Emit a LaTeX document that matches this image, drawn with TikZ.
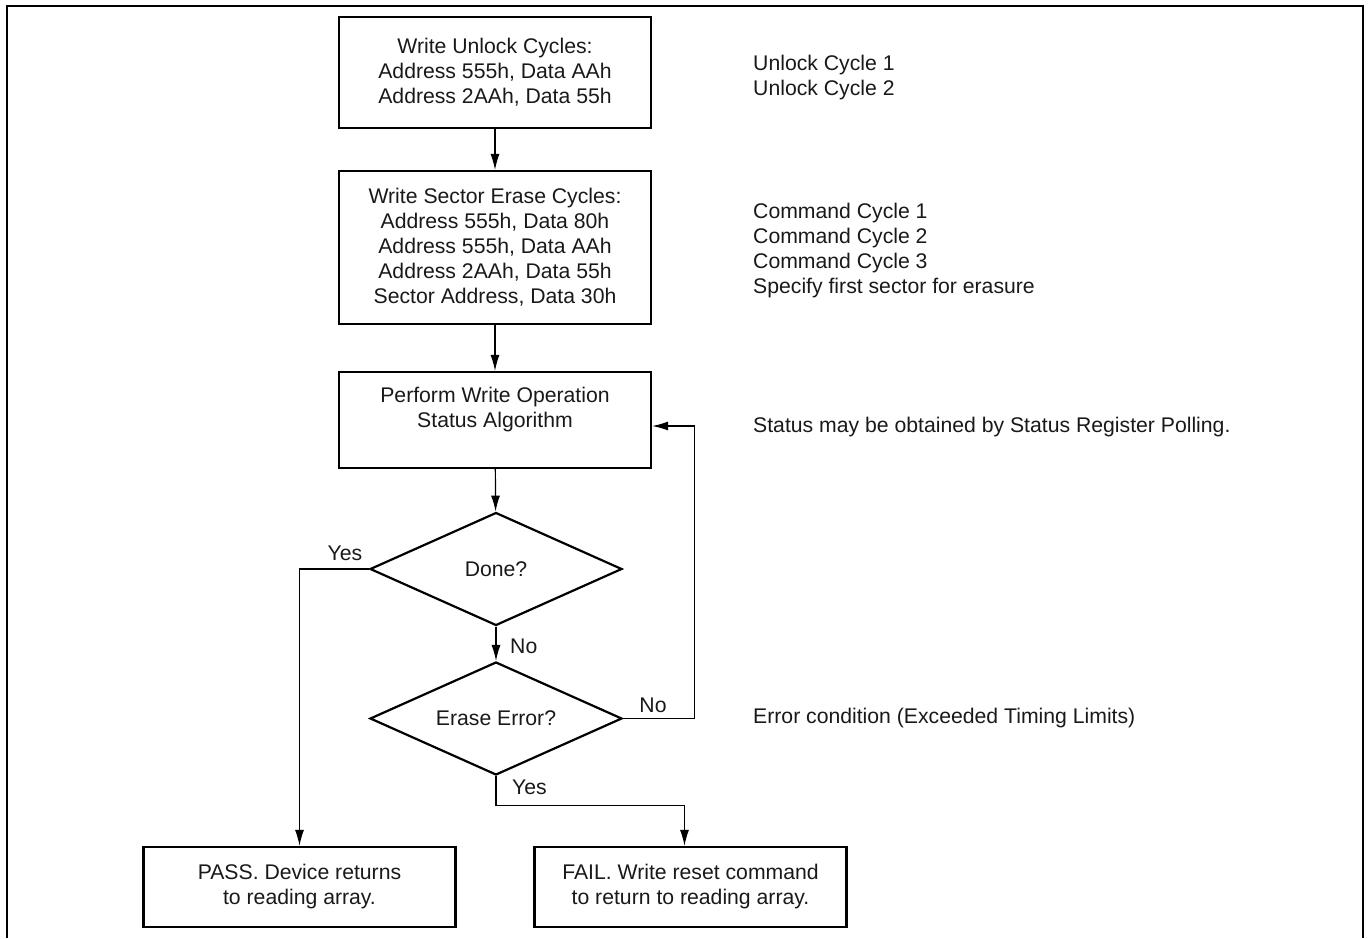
\documentclass[tikz,border=0pt]{standalone}
\usepackage{fontspec}
\setmainfont{Liberation Sans}
\usetikzlibrary{shapes.geometric,arrows.meta}

\tikzset{
  stepbox/.style={draw,rectangle,line width=2.2pt,minimum width=312pt,align=center,inner sep=0pt},
  decide/.style={draw,diamond,aspect=2.23,line width=2.2pt,minimum width=252pt,minimum height=113pt,inner sep=0pt},
  flow/.style={line width=1.2pt,-{Latex[length=16pt,width=9pt]}},
  tag/.style={inner sep=0pt},
  note/.style={anchor=west,align=left,inner sep=0pt},
}

\begin{document}
\begin{tikzpicture}[x=1pt,y=-1pt,font=\fontsize{21.2pt}{25pt}\selectfont,text=black!90]
    \useasboundingbox (0,0) rectangle (1369,938);
    \draw[line width=2pt] (7,938) -- (7,6) -- (1363,6) -- (1363,938);

    \node[stepbox,minimum height=111pt] (unlock) at (495,72.5) {Write Unlock Cycles:\\Address 555h, Data AAh\\Address 2AAh, Data 55h};
    \node[stepbox,minimum height=153pt] (sectorcmd) at (495,247.5) {Write Sector Erase Cycles:\\Address 555h, Data 80h\\Address 555h, Data AAh\\Address 2AAh, Data 55h\\Sector Address, Data 30h};
    \node[stepbox,minimum height=96pt] (status) at (495,420) {Perform Write Operation\\Status Algorithm\\\mbox{}};
    \node[decide] (done) at (496,569) {Done?};
    \node[decide] (erase) at (496,718.5) {Erase Error?};
    \node[stepbox,minimum height=80pt] (pass) at (299.5,887) {PASS. Device returns\\to reading array.};
    \node[stepbox,minimum height=80pt] (fail) at (690.5,887) {FAIL. Write reset command\\to return to reading array.};

    \draw[flow] (unlock) -- (sectorcmd);
    \draw[flow] (sectorcmd) -- (status);
    \draw[flow] (status) -- (done);
    \draw[flow] (done) -- (erase);
    \draw[flow] (done.west) -| (pass.north);
    \draw[flow] (erase.east) -- ++(71,0) |- ([yshift=-6pt]status.east);
    \draw[flow] (erase.south) -- ++(0,29) -| ([xshift=-6pt]fail.north);

    \node[tag] (yesdone) at (345,553) {Yes};
    \node[tag,anchor=west] (nodone) at (510,646) {No};
    \node[tag] (noerase) at (653,705) {No};
    \node[tag,anchor=west] (yeserase) at (512,787) {Yes};

    \node[note] (noteunlock) at (753,77.5) {Unlock Cycle 1\\Unlock Cycle 2};
    \node[note] (notecmd) at (753,251) {Command Cycle 1\\Command Cycle 2\\Command Cycle 3\\Specify first sector for erasure};
    \node[note] (notestatus) at (753,427) {Status may be obtained by Status Register Polling.};
    \node[note] (noteerror) at (753,718) {Error condition (Exceeded Timing Limits)};
\end{tikzpicture}
\end{document}
